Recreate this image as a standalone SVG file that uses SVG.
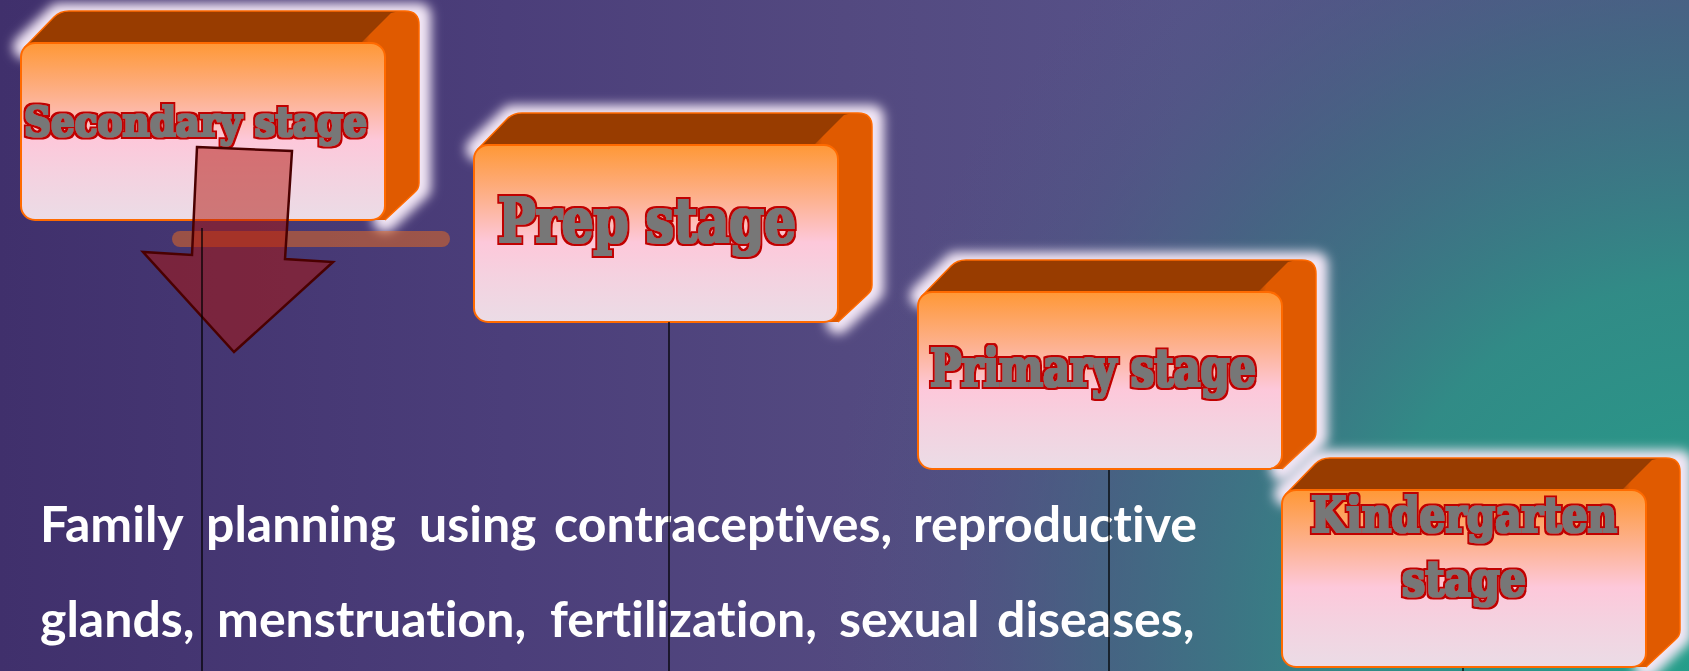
<svg xmlns="http://www.w3.org/2000/svg" xmlns:xlink="http://www.w3.org/1999/xlink" width="1689" height="671" viewBox="0 0 1689 671">
<style>
.stage{font-family:"DejaVu Serif","Liberation Serif",serif;font-weight:bold;fill:#777777;filter:url(#heavy)}
.body{font-family:Lato,"Open Sans","Liberation Sans",sans-serif;font-weight:bold;font-size:50px;fill:#ffffff;font-variant-ligatures:none;font-feature-settings:"liga" 0,"clig" 0}
.conn{stroke:#000000;stroke-width:1.3;fill:none}
</style>
<defs>
<linearGradient id="bgL" x1="0" y1="0" x2="1" y2="0">
<stop offset="0" stop-color="#40306c"/>
<stop offset="0.3" stop-color="#4b3e7a"/>
<stop offset="0.5" stop-color="#534980"/>
<stop offset="0.7" stop-color="#575289"/>
<stop offset="1" stop-color="#56548a"/>
</linearGradient>
<radialGradient id="bgT" gradientUnits="userSpaceOnUse" cx="1720" cy="640" r="900">
<stop offset="0" stop-color="#23a08a" stop-opacity="1"/>
<stop offset="0.4" stop-color="#2f8e86" stop-opacity="0.95"/>
<stop offset="0.68" stop-color="#3c6e80" stop-opacity="0.65"/>
<stop offset="0.85" stop-color="#44607f" stop-opacity="0.25"/>
<stop offset="1" stop-color="#4a5a80" stop-opacity="0"/>
</radialGradient>
<linearGradient id="frontG" x1="0" y1="0" x2="0" y2="1">
<stop offset="0" stop-color="#ff9836"/>
<stop offset="0.3" stop-color="#fdb18e"/>
<stop offset="0.55" stop-color="#fdc8da"/>
<stop offset="0.75" stop-color="#f4d2e0"/>
<stop offset="1" stop-color="#ebdce6"/>
</linearGradient>
<linearGradient id="sideG" x1="0" y1="0" x2="0.35" y2="0.25">
<stop offset="0" stop-color="#983c00"/>
<stop offset="0.45" stop-color="#e05a00"/>
<stop offset="1" stop-color="#e05a00"/>
</linearGradient>
<filter id="glow" x="-20%" y="-30%" width="140%" height="160%">
<feGaussianBlur stdDeviation="5.5"/>
</filter>
<filter id="heavy" x="-5%" y="-20%" width="110%" height="140%">
<feMorphology in="SourceAlpha" operator="dilate" radius="2.6" result="outer"/>
<feFlood flood-color="#c00000" result="rc"/>
<feComposite in="rc" in2="outer" operator="in" result="red"/>
<feMorphology in="SourceAlpha" operator="dilate" radius="0.6" result="inner"/>
<feFlood flood-color="#777777" result="gc"/>
<feComposite in="gc" in2="inner" operator="in" result="gray"/>
<feMerge><feMergeNode in="red"/><feMergeNode in="gray"/></feMerge>
</filter>
<g id="box3d">
<path d="M4,4 L38,-28 L398,-28 L398,145 L364,177 L364,0 Z" fill="#f2e6f5" stroke="#f2e6f5" stroke-width="24" stroke-linejoin="round" filter="url(#glow)"/>
<path d="M3,5 L33,-26 Q39,-32 48,-32 L384,-32 Q398,-32 398,-18 L398,0 L364,0 Z" fill="#983c00"/>
<path d="M340,0 L370,-30 Q376,-32 384,-32 Q398,-32 398,-18 L398,140 Q398,146 393,150 L364,177 L340,177 Z" fill="url(#sideG)"/>
<path d="M3,5 L33,-26 Q39,-32 48,-32 L384,-32 Q398,-32 398,-18 L398,140 Q398,146 393,150 L364,177" fill="none" stroke="#ff6a00" stroke-width="1.5"/>
<rect x="0" y="0" width="364" height="177" rx="14" fill="url(#frontG)" stroke="#ff6a00" stroke-width="2"/>
</g>
</defs>
<rect x="0" y="0" width="1689" height="671" fill="url(#bgL)"/>
<rect x="0" y="0" width="1689" height="671" fill="url(#bgT)"/>

<g id="body-text">
<text class="body" y="542"><tspan x="40">Family</tspan><tspan x="206">planning</tspan><tspan x="419">using</tspan><tspan x="554">contraceptives,</tspan><tspan x="913">reproductive</tspan></text>
<text class="body" y="637"><tspan x="40">glands,</tspan><tspan x="217">menstruation,</tspan><tspan x="550">fertilization,</tspan><tspan x="839">sexual</tspan><tspan x="997">diseases,</tspan></text>
</g>

<g id="node-secondary">
<use xlink:href="#box3d" href="#box3d" transform="translate(21,43)"/>
<text class="stage" x="24" y="136" font-size="41" textLength="343" lengthAdjust="spacingAndGlyphs">Secondary stage</text>
</g>
<g id="node-prep">
<use xlink:href="#box3d" href="#box3d" transform="translate(474,145)"/>
<text class="stage" x="498" y="242" font-size="61" textLength="298" lengthAdjust="spacingAndGlyphs">Prep stage</text>
</g>
<g id="node-primary">
<use xlink:href="#box3d" href="#box3d" transform="translate(918,292)"/>
<text class="stage" x="930" y="386" font-size="52" textLength="326" lengthAdjust="spacingAndGlyphs">Primary stage</text>
</g>
<g id="node-kindergarten">
<use xlink:href="#box3d" href="#box3d" transform="translate(1282,490)"/>
<text class="stage" font-size="49"><tspan x="1311" y="532" textLength="306" lengthAdjust="spacingAndGlyphs">Kindergarten</tspan><tspan x="1402" y="596" textLength="124" lengthAdjust="spacingAndGlyphs">stage</tspan></text>
</g>

<g id="bar">
<line x1="180" y1="239" x2="442" y2="239" stroke="#ef6d1c" stroke-opacity="0.5" stroke-width="16" stroke-linecap="round"/>
</g>
<g id="arrow">
<polygon points="197,147 292,151 285,259 333,262 234,352 143,252 192,255" fill="#b0140a" fill-opacity="0.5" stroke="#4a0000" stroke-width="2.5" stroke-linejoin="miter"/>
</g>

<g id="connectors">
<line class="conn" x1="202" y1="228" x2="202" y2="671"/>
<line class="conn" x1="669" y1="322" x2="669" y2="671"/>
<line class="conn" x1="1109" y1="470" x2="1109" y2="671"/>
<line class="conn" x1="1463" y1="668" x2="1463" y2="671"/>
</g>
</svg>
